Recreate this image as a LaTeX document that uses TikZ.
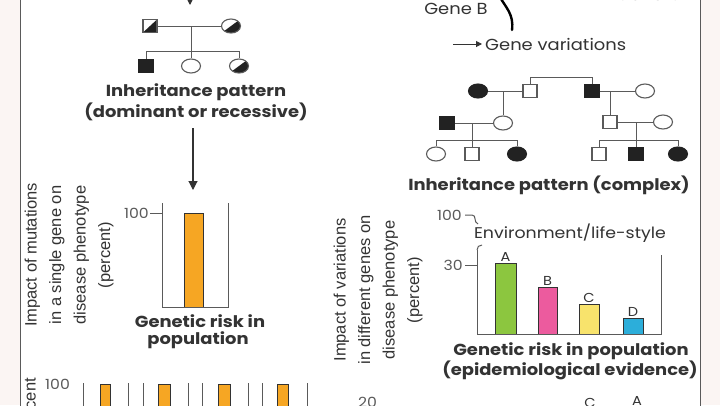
\documentclass[tikz,border=0pt]{standalone}
\usepackage{fontspec}
\usetikzlibrary{shapes.geometric,arrows.meta}
\newfontfamily\pop{Poppins}[FakeStretch=1.12]
\newfontfamily\lib{Liberation Sans}
\definecolor{margin}{HTML}{FBF5F3}
\definecolor{ink}{HTML}{333333}
\definecolor{lin}{HTML}{5A5A5A}
\definecolor{dk}{HTML}{222222}
\definecolor{orng}{HTML}{F6A623}
\definecolor{grn}{HTML}{8CC63F}
\definecolor{pnk}{HTML}{EC5B9E}
\definecolor{ylw}{HTML}{F8E36C}
\definecolor{blu}{HTML}{2CAEDA}
\tikzset{
  ped/.style={draw=lin, line width=1.1pt, inner sep=0pt, fill=white},
  sq/.style={ped, rectangle, minimum width=14pt, minimum height=13pt},
  ci/.style={ped, ellipse, minimum width=19pt, minimum height=14pt},
  full/.style={fill=dk, draw=dk},
  half/.style={path picture={\fill[dk] (path picture bounding box.south west) -- (path picture bounding box.north east) -- (path picture bounding box.south east) -- cycle;}},
  pl/.style={draw=lin, line width=1pt},
  title/.style={font=\pop\bfseries\fontsize{16}{19}\selectfont, text=ink, inner sep=0pt},
  rlab/.style={rotate=90, align=center, text=ink, inner sep=0pt, font=\lib\fontsize{16.5}{24.5}\selectfont},
  axl/.style={font=\pop\fontsize{14}{16}\selectfont, text=lin, inner sep=0pt},
  barl/.style={font=\pop\fontsize{13}{15}\selectfont, text=ink, inner sep=0pt},
  ax/.style={draw=lin, line width=1pt},
  bar/.style={draw=ink, line width=0.7pt},
  arr/.style={draw=ink, line width=1.1pt, -{Triangle[length=9pt,width=9pt]}},
}
\begin{document}
\begin{tikzpicture}[x=1pt,y=-1pt]
\useasboundingbox (0,0) rectangle (720,405);
\clip (0,0) rectangle (720,405);
\fill[margin] (0,0) rectangle (720,405);
\fill[white] (20,0) rectangle (700,405);
\draw[lin, line width=1pt] (20,-5) -- (20,410) (700,-5) -- (700,410);

% top arrow (cut)
\coordinate (topS) at (190,-30);
\coordinate (topE) at (190,5);
\draw[arr] (topS) -- (topE);

% gene B and variations
\node[font=\pop\fontsize{16}{18}\selectfont, text=ink, inner sep=0pt] (geneB) at (456,9) {Gene B};
\draw[line width=2.4pt, line cap=round] (498,-6) .. controls (506,8) and (514,14) .. (512,30);
\node[font=\pop\fontsize{16}{18}\selectfont, text=ink, inner sep=0pt] (geneC) at (649,-5) {Gene C};
\node[font=\pop\fontsize{16}{18}\selectfont, text=ink, inner sep=0pt, anchor=west] (gv) at (485,44) {Gene variations};
\coordinate (gvS) at (453,44);
\draw[draw=ink, line width=1pt, -{Triangle[length=6pt,width=6pt]}] (gvS) -- ([xshift=-3pt]gv.west);

% ===== left pedigree =====
\node[sq, half] (f) at (150,26) {};
\node[ci, half] (m) at (231,26) {};
\node[sq, full] (c1) at (146,66) {};
\node[ci] (c2) at (191,66) {};
\node[ci, half] (c3) at (239,66) {};
\draw[pl] (f.east) -- (m.west);
\coordinate (sibL) at (191,51);
\draw[pl] (c2.north |- f.east) -- (c2.north);
\draw[pl] (c1.north) -- (c1.north |- sibL) -- (c3.north |- sibL) -- (c3.north);

\node[title] (lt1) at (196,92) {Inheritance pattern};
\node[title] (lt2) at (196,112) {(dominant or recessive)};
\coordinate (lchartTop) at (193,190);
\coordinate (larrS) at (193,128);
\draw[arr] (larrS) -- (lchartTop);

% left chart
\draw[ax] (162,203) -- (162,307) -- (228,307) -- (228,203);
\draw[ax] (150,213) -- (162,213);
\node[axl, anchor=east] (l100) at (149,213) {100};
\fill[orng] (184,213) rectangle (203,307);
\draw[bar] (184,307) -- (184,213) -- (203,213) -- (203,307);
\node[title] (lg1) at (200,321) {Genetic risk in};
\node[title] (lg2) at (198,340) {population};
\node[rlab] (lylab) at (69,255) {Impact of mutations\\in a single gene on\\disease phenotype\\(percent)};

% bottom strip (cut)
\node[rlab, anchor=east] (bcent) at (32,378) {percent};
\node[axl, anchor=west] (b100) at (45,384) {100};
\foreach \a/\b/\c/\d in {83/128/100/110, 143/188/158/170, 202/248/218/230, 262/307/277/288}{
  \draw[ax] (\a,383) -- (\a,410);
  \draw[ax] (\b,383) -- (\b,410);
  \fill[orng] (\c,384) rectangle (\d,410);
  \draw[bar] (\c,410) -- (\c,384) -- (\d,384) -- (\d,410);
}
\node[axl, anchor=north west] (b20) at (358,397) {20};
\node[barl, anchor=north] (bC) at (590,398) {C};
\node[barl, anchor=north] (bA) at (637,396) {A};

% ===== right pedigree =====
\node[ci, full] (r1a) at (478,91) {};
\node[sq] (r1b) at (530,91) {};
\node[sq, full] (r1c) at (592,91) {};
\node[ci] (r1d) at (645,91) {};
\node[sq, full] (r2a) at (447,123) {};
\node[ci] (r2b) at (503,123) {};
\node[sq] (r2c) at (610,122) {};
\node[ci] (r2d) at (663,122) {};
\node[ci] (r3a) at (436,154) {};
\node[sq] (r3b) at (472,154) {};
\node[ci, full] (r3c) at (517,154) {};
\node[sq] (r3d) at (599,154) {};
\node[sq, full] (r3e) at (636,154) {};
\node[ci, full] (r3f) at (678,154) {};
\coordinate (sib0) at (560,77);
\coordinate (sibR1) at (472,140);
\coordinate (sibR2) at (636,140);
\draw[pl] (r1a.east) -- (r1b.west);
\draw[pl] (r1c.east) -- (r1d.west);
\draw[pl] (r1b.north) -- (r1b.north |- sib0) -- (r1c.north |- sib0) -- (r1c.north);
\draw[pl] (r2b.north |- r1a.east) -- (r2b.north);
\draw[pl] (r2c.north |- r1c.east) -- (r2c.north);
\draw[pl] (r2a.east) -- (r2b.west);
\draw[pl] (r2c.east) -- (r2d.west);
\draw[pl] (r3b.north |- r2a.east) -- (r3b.north);
\draw[pl] (r3a.north) -- (r3a.north |- sibR1) -- (r3c.north |- sibR1) -- (r3c.north);
\draw[pl] (r3e.north |- r2c.east) -- (r3e.north);
\draw[pl] (r3d.north) -- (r3d.north |- sibR2) -- (r3f.north |- sibR2) -- (r3f.north);
\node[title] (rt) at (549,185) {Inheritance pattern (complex)};

% right chart
\draw[ax] (477,250) -- (477,334) -- (661,334) -- (661,255);
\draw[ax] (477,250) .. controls (477,247) and (479,245) .. (482,245);
\draw[ax] (465,215) -- (472,215) .. controls (477,215) and (473,222) .. (478,224);
\draw[ax] (465,265) -- (477,265);
\node[axl, anchor=east] (r100) at (462,215) {100};
\node[axl, anchor=east] (r30) at (463,265) {30};
\node[font=\pop\fontsize{15.5}{17}\selectfont, text=ink, inner sep=0pt] (env) at (570,233) {Environment/life-style};
\foreach \x/\w/\t/\col/\lab in {495/516/263/grn/A, 538/557/287/pnk/B, 579/599/304/ylw/C, 623/643/318/blu/D}{
  \fill[\col] (\x,\t) rectangle (\w,334);
  \draw[bar] (\x,334) -- (\x,\t) -- (\w,\t) -- (\w,334);
  \node[barl, anchor=south] at ({(\x+\w)/2},\t-1) {\lab};
}
\node[title] (rg1) at (571,351) {Genetic risk in population};
\node[title] (rg2) at (570,370) {(epidemiological evidence)};
\node[rlab] (rylab) at (378,290) {Impact of variations\\in different genes on\\disease phenotype\\(percent)};
\end{tikzpicture}
\end{document}
